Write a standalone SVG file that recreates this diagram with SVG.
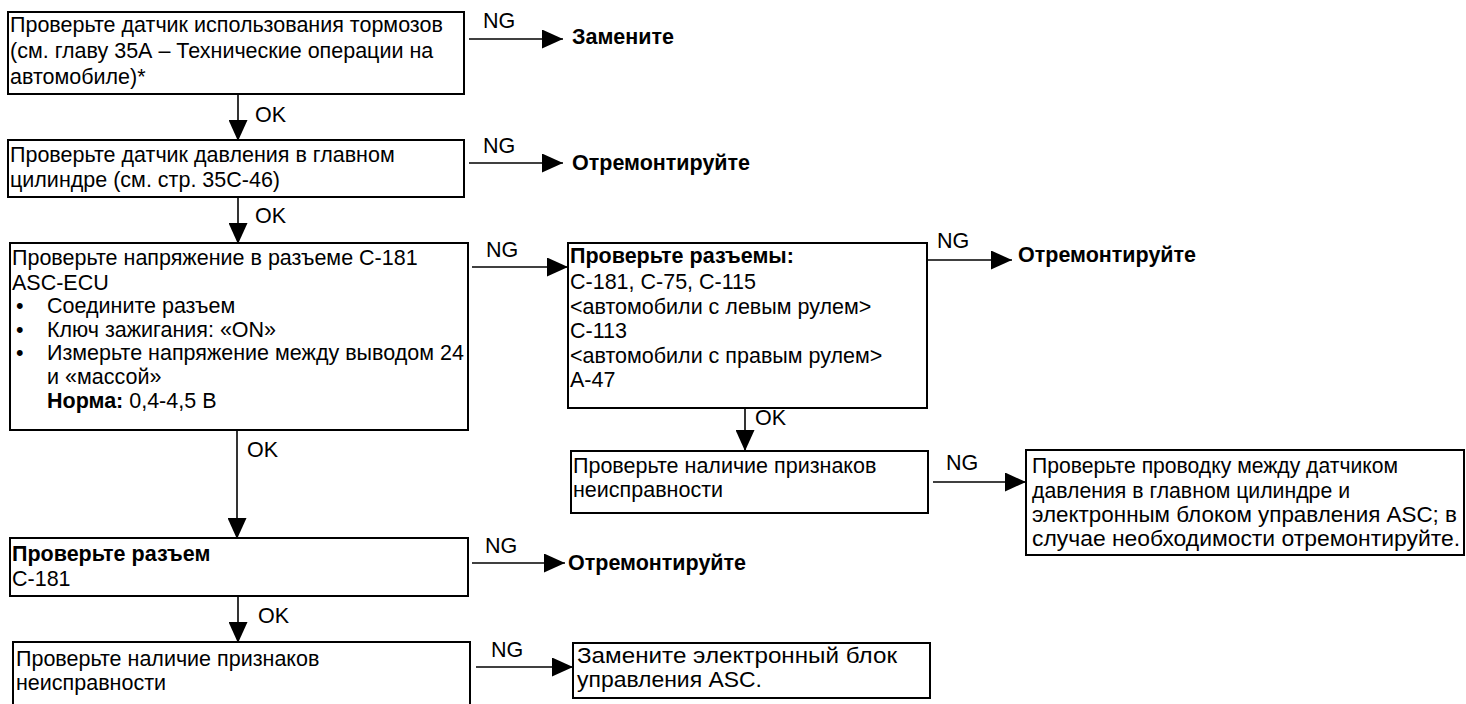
<svg xmlns="http://www.w3.org/2000/svg" width="1466" height="704" viewBox="0 0 1466 704">
  <style>
    text { font-family: "Liberation Sans", Arial, sans-serif; font-size: 21.5px; fill: #000; }
    .b { font-weight: bold; }
    .box { fill: #fff; stroke: #000; stroke-width: 2; }
    .edge { fill: none; stroke: #000; stroke-width: 1.6; marker-end: url(#arrow); }
  </style>
  <defs>
    <marker id="arrow" markerUnits="userSpaceOnUse" markerWidth="21" markerHeight="19" refX="21" refY="9.5" orient="auto">
      <path d="M0,0 L21,9.5 L0,19 z" fill="#000"/>
    </marker>
  </defs>

  <rect width="1466" height="704" fill="#fff"/>

  <!-- connectors -->
  <g id="connectors">
    <path class="edge" d="M238,94 V141"/>
    <path class="edge" d="M238,197 V244"/>
    <path class="edge" d="M237,430 V539"/>
    <path class="edge" d="M238,596 V643"/>
    <path class="edge" d="M745,408 V451"/>
    <path class="edge" d="M469,39 H563"/>
    <path class="edge" d="M469,163 H563"/>
    <path class="edge" d="M472,267 H568"/>
    <path class="edge" d="M927,260 H1012"/>
    <path class="edge" d="M933,482 H1026"/>
    <path class="edge" d="M472,563 H565"/>
    <path class="edge" d="M476,667 H573"/>
    <g id="edge-labels">
      <text x="255" y="122">OK</text>
      <text x="255" y="223">OK</text>
      <text x="247" y="457">OK</text>
      <text x="258" y="623">OK</text>
      <text x="755" y="425">OK</text>
      <text x="483" y="28">NG</text>
      <text x="483" y="153">NG</text>
      <text x="486" y="257">NG</text>
      <text x="937" y="248">NG</text>
      <text x="946" y="470">NG</text>
      <text x="485" y="553">NG</text>
      <text x="491" y="657">NG</text>
    </g>
  </g>

  <g id="n1">
    <rect class="box" x="8" y="12" width="456" height="82"/>
    <text x="10" y="32">Проверьте датчик использования тормозов</text>
    <text x="10" y="58">(см. главу 35А – Технические операции на</text>
    <text x="10" y="84">автомобиле)*</text>
  </g>
  <g id="r1"><text class="b" x="572" y="44">Замените</text></g>

  <g id="n2">
    <rect class="box" x="8" y="140" width="456" height="57"/>
    <text x="10" y="162">Проверьте датчик давления в главном</text>
    <text x="10" y="187">цилиндре (см. стр. 35С-46)</text>
  </g>
  <g id="r2"><text class="b" x="572" y="170">Отремонтируйте</text></g>

  <g id="n3">
    <rect class="box" x="10" y="243" width="458" height="187"/>
    <text x="12" y="265">Проверьте напряжение в разъеме С-181</text>
    <text x="12" y="290">ASC-ECU</text>
    <text x="16" y="313">•</text>
    <text x="47" y="313">Соедините разъем</text>
    <text x="16" y="337">•</text>
    <text x="47" y="337">Ключ зажигания: «ON»</text>
    <text x="16" y="360">•</text>
    <text x="47" y="360">Измерьте напряжение между выводом 24</text>
    <text x="47" y="384">и «массой»</text>
    <text x="47" y="408"><tspan class="b">Норма:</tspan> 0,4-4,5 В</text>
  </g>

  <g id="n4">
    <rect class="box" x="568" y="243" width="359" height="165"/>
    <text class="b" x="570" y="263">Проверьте разъемы:</text>
    <text x="570" y="289">С-181, С-75, С-115</text>
    <text x="570" y="314">&lt;автомобили с левым рулем&gt;</text>
    <text x="570" y="338">С-113</text>
    <text x="570" y="363">&lt;автомобили с правым рулем&gt;</text>
    <text x="570" y="387">А-47</text>
  </g>
  <g id="r3"><text class="b" x="1018" y="262">Отремонтируйте</text></g>

  <g id="n5">
    <rect class="box" x="571" y="451" width="357" height="62"/>
    <text x="573" y="473">Проверьте наличие признаков</text>
    <text x="573" y="497">неисправности</text>
  </g>

  <g id="n6">
    <rect class="box" x="1026" y="450" width="438" height="105"/>
    <text x="1032" y="473" textLength="366" lengthAdjust="spacingAndGlyphs">Проверьте проводку между датчиком</text>
    <text x="1032" y="498" textLength="318" lengthAdjust="spacingAndGlyphs">давления в главном цилиндре и</text>
    <text x="1032" y="522" textLength="425" lengthAdjust="spacingAndGlyphs">электронным блоком управления ASC; в</text>
    <text x="1032" y="546" textLength="428" lengthAdjust="spacingAndGlyphs">случае необходимости отремонтируйте.</text>
  </g>

  <g id="n7">
    <rect class="box" x="10" y="538" width="458" height="58"/>
    <text class="b" x="12" y="561">Проверьте разъем</text>
    <text x="12" y="586">С-181</text>
  </g>
  <g id="r4"><text class="b" x="568" y="570">Отремонтируйте</text></g>

  <g id="n8">
    <rect class="box" x="13" y="642" width="457" height="70"/>
    <text x="16" y="666">Проверьте наличие признаков</text>
    <text x="16" y="690">неисправности</text>
  </g>

  <g id="n9">
    <rect class="box" x="573" y="643" width="357" height="55"/>
    <text x="577" y="663" textLength="320" lengthAdjust="spacingAndGlyphs">Замените электронный блок</text>
    <text x="577" y="687" textLength="185" lengthAdjust="spacingAndGlyphs">управления ASC.</text>
  </g>
</svg>
